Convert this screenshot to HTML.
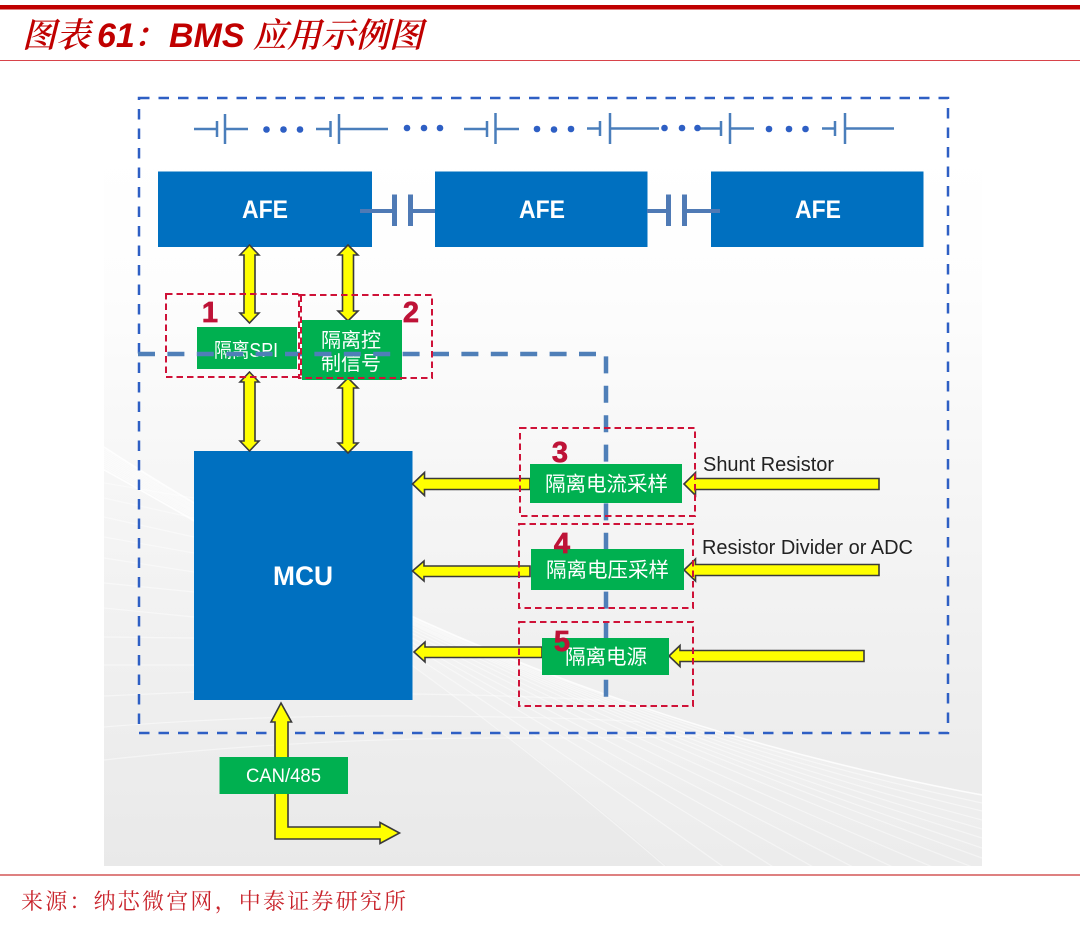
<!DOCTYPE html>
<html><head><meta charset="utf-8"><style>
html,body{margin:0;padding:0;background:#fff;width:1080px;height:930px;overflow:hidden}
svg{display:block}
.cj{font-family:"Liberation Sans","Noto Sans CJK SC",sans-serif;fill:#fff;font-size:20px}
.num{font-family:"Liberation Sans",sans-serif;font-weight:bold;font-size:29px;fill:#be1337;text-anchor:middle;stroke:#be1337;stroke-width:.7}
.ye{fill:#ffff00;stroke:#3a3a3a;stroke-width:1.6;stroke-linejoin:miter}
.rd{fill:none;stroke:#cf1238;stroke-width:2;stroke-dasharray:6.5 4}
.ser{font-family:"Noto Serif CJK SC",serif;font-style:italic;font-weight:600;fill:#c00000;font-size:34px}
.bi{font-family:"Liberation Sans",sans-serif;font-style:italic;font-weight:bold;fill:#c00000;font-size:34px}
.pl{stroke:#4a7ebb;fill:none;stroke-width:2.5}
.dot{fill:#2e5fc4}
</style></head><body>
<svg width="1080" height="930" viewBox="0 0 1080 930" xmlns="http://www.w3.org/2000/svg">
<defs>
<linearGradient id="bg" x1="0" y1="0" x2="0" y2="1">
<stop offset="0" stop-color="#ffffff"/><stop offset=".2" stop-color="#fdfdfd"/><stop offset=".42" stop-color="#f7f7f7"/><stop offset=".7" stop-color="#f0f0f0"/><stop offset="1" stop-color="#e9e9e9"/>
</linearGradient>
<clipPath id="c"><rect x="104" y="150" width="878" height="716"/></clipPath>
</defs>
<rect x="0" y="5" width="1080" height="4.5" fill="#c00000"/>
<rect x="0" y="60" width="1080" height="1" fill="#d8434a"/>
<text class="ser" x="22" y="47">图表</text>
<text class="bi" x="97" y="47">61</text>
<text class="ser" x="133" y="47">：</text>
<text class="bi" x="169" y="47">BMS</text>
<text class="ser" x="253" y="47">应用示例图</text>

<rect x="104" y="150" width="878" height="716" fill="url(#bg)"/>
<g clip-path="url(#c)">
<path d="M104 447Q500 705 982 795L982 866 667 866Q380 620 104 470Z" fill="#fff" fill-opacity=".16"/>
<g fill="none" stroke="#fff" stroke-opacity=".45" stroke-width="1.2">
<path d="M104 447Q500 705 982 795" stroke-opacity=".8" stroke-width="1.6"/><path d="M104 449Q492 699 982 803"/><path d="M104 451Q484 694 982 811"/><path d="M104 453Q476 688 982 820"/><path d="M104 455Q468 682 982 829"/><path d="M104 457Q460 677 982 838"/><path d="M104 459Q452 671 982 848"/><path d="M104 461Q444 665 982 858"/><path d="M104 463Q436 660 975 868"/><path d="M104 465Q428 654 935 868"/><path d="M104 467Q420 648 895 868"/><path d="M104 469Q412 643 855 868"/><path d="M104 470Q404 637 815 868"/><path d="M104 470Q396 631 775 868"/><path d="M104 470Q388 626 725 868"/><path d="M104 470Q380 620 667 868"/>
<path d="M104 483L194 498"/><path d="M104 498L194 518"/><path d="M104 517L194 537"/><path d="M104 537L194 553"/><path d="M104 558L194 572"/><path d="M104 583L194 592"/><path d="M104 608L194 617"/><path d="M104 637L194 638"/><path d="M104 665L194 665"/>
<path d="M104 696L194 692"/><path d="M412 694Q500 695 600 700"/>
<path d="M104 727Q250 715 412 716T640 722"/><path d="M104 760Q300 738 500 738T700 735"/>
</g>
</g>

<!-- outer dash -->
<rect x="139" y="98" width="809" height="635" fill="none" stroke="#2e5fc4" stroke-width="2.5" stroke-dasharray="10.5 9"/>

<!-- batteries -->
<g class="pl">
<path d="M194 129H217M217 121V137M225 114V144M225 129H248"/>
<path d="M316 129H331M330.500 121V137M339 114V144M339 129H388"/>
<path d="M464 129H487M487 121V137M495.500 113V144M495.500 129H519"/>
<path d="M587 128.500H600M600 121V136M610 113V144M610 128.500H659"/>
<path d="M697 128.500H721M721 121V136M730 113V144M730 128.500H754"/>
<path d="M822 128.500H835M835 121V136M845 113V144M845 128.500H894"/>
</g>
<g class="dot">
<circle cx="266.500" cy="129.500" r="3.300"/><circle cx="283.500" cy="129.500" r="3.300"/><circle cx="300" cy="129.500" r="3.300"/>
<circle cx="407" cy="128" r="3.300"/><circle cx="424" cy="128" r="3.300"/><circle cx="440" cy="128" r="3.300"/>
<circle cx="537" cy="129" r="3.300"/><circle cx="554" cy="129.500" r="3.300"/><circle cx="571" cy="129" r="3.300"/>
<circle cx="664.500" cy="128" r="3.300"/><circle cx="682" cy="128" r="3.300"/><circle cx="697.500" cy="128" r="3.300"/>
<circle cx="769" cy="129" r="3.300"/><circle cx="789" cy="129" r="3.300"/><circle cx="805.500" cy="129" r="3.300"/>
</g>

<!-- AFE -->
<g fill="#0070c0">
<rect x="158" y="171.500" width="214" height="75.500"/>
<rect x="435" y="171.500" width="212.500" height="75.500"/>
<rect x="711" y="171.500" width="212.500" height="75.500"/>
<rect x="194" y="451" width="218.500" height="249"/>
</g>
<g font-family="Liberation Sans, sans-serif" font-weight="bold" font-size="25" fill="#fff">
<text x="242" y="218" textLength="46" lengthAdjust="spacingAndGlyphs">AFE</text>
<text x="519" y="218" textLength="46" lengthAdjust="spacingAndGlyphs">AFE</text>
<text x="795" y="218" textLength="46" lengthAdjust="spacingAndGlyphs">AFE</text>
<text x="273" y="585" font-size="27" textLength="60" lengthAdjust="spacingAndGlyphs">MCU</text>
</g>
<!-- capacitors -->
<g stroke="#4f7ab5" fill="none">
<path d="M360 211H396M413 211H435" stroke-width="4"/>
<path d="M394.500 194.500V226M410.500 194.500V226" stroke-width="5"/>
<path d="M647 211H668M687 211H720" stroke-width="4"/>
<path d="M668.500 194.500V226M684.500 194.500V226" stroke-width="5"/>
</g>

<!-- yellow arrows -->
<polygon class="ye" points="249.500,245 259,255 255,255 255,313 259,313 249.500,323 240,313 244,313 244,255 240,255"/>
<polygon class="ye" points="348,245 358,255 353.500,255 353.500,311 358,311 348,321 338,311 342.500,311 342.500,255 338,255"/>
<polygon class="ye" points="249.500,372 259,382 255,382 255,441 259,441 249.500,451 240,441 244,441 244,382 240,382"/>
<polygon class="ye" points="348,378 358,388 353.500,388 353.500,443 358,443 348,453 338,443 342.500,443 342.500,388 338,388"/>
<polygon class="ye" points="412.500,484 424.500,472.500 424.500,478.500 530,478.500 530,489.500 424.500,489.500 424.500,495.500"/>
<polygon class="ye" points="412.500,571 424,561 424,566 530,566 530,576.500 424,576.500 424,581"/>
<polygon class="ye" points="414,652 425,642 425,647 542,647 542,657.500 425,657.500 425,662"/>
<polygon class="ye" points="684,484 695.500,472.500 695.500,478.500 879,478.500 879,489.500 695.500,489.500 695.500,495.500"/>
<polygon class="ye" points="684,570 695.500,559 695.500,564.500 879,564.500 879,575.500 695.500,575.500 695.500,581"/>
<polygon class="ye" points="669,656 680,645.500 680,650.500 864,650.500 864,661.500 680,661.500 680,666.500"/>
<polygon class="ye" points="281,703 291.500,722 288,722 288,827 380,827 380,822.500 399.500,833 380,843.500 380,839 275,839 275,722 271,722"/>

<!-- green 1,2 -->
<rect x="197" y="327" width="100" height="42" fill="#00b050"/>
<rect x="302" y="320" width="100" height="60" fill="#00b050"/>
<text class="cj" x="214" y="357" textLength="64" lengthAdjust="spacingAndGlyphs">隔离SPI</text>
<text class="cj" x="321" y="347">隔离控</text>
<text class="cj" x="321" y="370">制信号</text>

<!-- inner dash -->
<path d="M138 354H606V697" fill="none" stroke="#4f7fb8" stroke-width="4.500" stroke-dasharray="17 12.400"/>

<!-- green 3,4,5, CAN -->
<rect x="530" y="464" width="152" height="39" fill="#00b050"/>
<rect x="531" y="549" width="153" height="41" fill="#00b050"/>
<rect x="542" y="638" width="127" height="37" fill="#00b050"/>
<rect x="219.500" y="757" width="128.500" height="37" fill="#00b050"/>
<text class="cj" x="545" y="491" style="font-size:20.500px">隔离电流采样</text>
<text class="cj" x="546" y="577" style="font-size:20.500px">隔离电压采样</text>
<text class="cj" x="565" y="664" style="font-size:20.500px">隔离电源</text>
<text class="cj" x="246" y="782" style="font-size:19px" textLength="75" lengthAdjust="spacingAndGlyphs">CAN/485</text>

<!-- red dashed -->
<rect class="rd" x="166" y="294" width="135" height="83"/>
<rect class="rd" x="299" y="295" width="133" height="83"/>
<rect class="rd" x="520" y="428" width="175" height="88"/>
<rect class="rd" x="519" y="524" width="174" height="84"/>
<rect class="rd" x="519" y="622" width="174" height="84"/>

<text class="num" x="210" y="322">1</text>
<text class="num" x="411" y="322">2</text>
<text class="num" x="560" y="462">3</text>
<text class="num" x="562" y="553">4</text>
<text class="num" x="562" y="651">5</text>

<g font-family="Liberation Sans, sans-serif" font-size="20" fill="#222">
<text x="703" y="471" textLength="131" lengthAdjust="spacingAndGlyphs">Shunt Resistor</text>
<text x="702" y="554" textLength="211" lengthAdjust="spacingAndGlyphs">Resistor Divider or ADC</text>
</g>

<rect x="0" y="874" width="1080" height="2" fill="#de8080"/>
<text x="21" y="909" font-family="Noto Serif CJK SC, serif" font-size="22" letter-spacing="2.200" fill="#c8222a">来源：纳芯微宫网，中泰证券研究所</text>
</svg>
</body></html>
